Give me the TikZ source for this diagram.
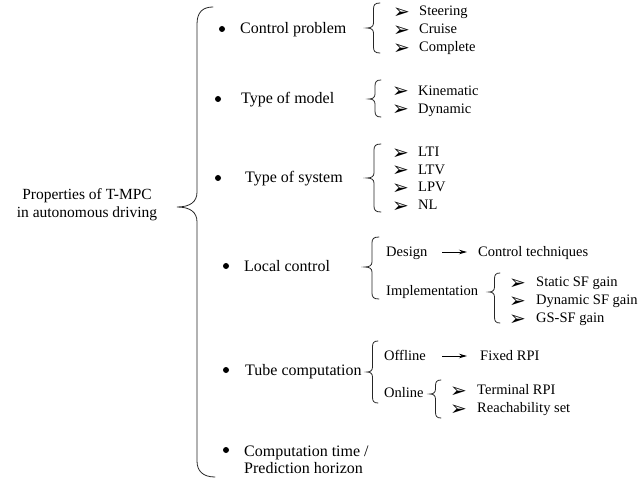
\documentclass[tikz,border=0pt]{standalone}
\usepackage{fontspec}
\setmainfont{Liberation Serif}
\newfontfamily\symfont{DejaVu Sans}
\usetikzlibrary{arrows.meta}
% #1 x of ends, #2 top y, #3 tip y, #4 bottom y, #5 width
\newcommand{\wbrace}[5]{\draw[brc] (#1,#2) .. controls ({#1-0.4*#5},#2) and ({#1-0.5*#5},{#2+2}) .. ({#1-0.5*#5},{#2+6}) -- ({#1-0.5*#5},{#3-5}) .. controls ({#1-0.5*#5},{#3-1.5}) and ({#1-0.7*#5},#3) .. ({#1-#5},#3) .. controls ({#1-0.7*#5},#3) and ({#1-0.5*#5},{#3+1.5}) .. ({#1-0.5*#5},{#3+5}) -- ({#1-0.5*#5},{#4-6}) .. controls ({#1-0.5*#5},{#4-2}) and ({#1-0.4*#5},#4) .. (#1,#4);}
\begin{document}
\begin{tikzpicture}[x=1pt,y=-1pt,
  txt/.style={anchor=base west, inner sep=0pt, font=\fontsize{14.5}{16}\selectfont, text height=11pt, text depth=3pt},
  main/.style={anchor=base west, inner sep=0pt, font=\fontsize{16}{17.5}\selectfont},
  sym/.style={anchor=base west, inner sep=0pt, yshift=-2.5pt, text height=9pt, text depth=0pt, font=\symfont\fontsize{20}{20}\selectfont},
  bdot/.style={circle, fill=black, inner sep=0pt, minimum size=6pt},
  brc/.style={line width=0.8pt, line cap=round, black!85},
  arr/.style={-{Stealth[length=8pt,width=4.5pt]}, line width=0.8pt}
]
\useasboundingbox (0,0) rectangle (640,481);

% root label
\node[anchor=base, inner sep=0pt, font=\fontsize{15.5}{18}\selectfont] (root) at (87,200)
  {\begin{tabular}[t]{@{}c@{}}Properties of T-MPC\\in autonomous driving\end{tabular}};

% big brace
\draw[brc] (213,7) .. controls (203,7) and (197,12) .. (197,24) -- (197,192)
  .. controls (197,202) and (190,207) .. (177,207)
  .. controls (190,207) and (197,212) .. (197,222) -- (197,461)
  .. controls (197,471) and (203,477) .. (215,477);

% Control problem
\node[bdot] (d1) at (222,29) {};
\node[main] (cp) at (240,34) {Control problem};
\wbrace{380}{3}{28}{53}{13}
\node[sym] (a11) at (393,16) {➢}; \node[txt] (s11) at (419,16) {Steering};
\node[sym] (a12) at (393,34) {➢}; \node[txt] (s12) at (419,34) {Cruise};
\node[sym] (a13) at (393,52) {➢}; \node[txt] (s13) at (419,52) {Complete};

% Type of model
\node[bdot] (d2) at (218,99) {};
\node[main] (tm) at (241,104) {Type of model};
\wbrace{381}{80}{99}{117}{12}
\node[sym] (a21) at (392,95.5) {➢}; \node[txt] (s21) at (418,95.5) {Kinematic};
\node[sym] (a22) at (392,113.5) {➢}; \node[txt] (s22) at (418,113.5) {Dynamic};

% Type of system
\node[bdot] (d3) at (218,178) {};
\node[main] (ts) at (245,183) {Type of system};
\wbrace{381}{144}{178}{212}{14}
\node[sym] (a31) at (392,157) {➢}; \node[txt] (s31) at (418,157) {LTI};
\node[sym] (a32) at (392,174.5) {➢}; \node[txt] (s32) at (418,174.5) {LTV};
\node[sym] (a33) at (392,192) {➢}; \node[txt] (s33) at (418,192) {LPV};
\node[sym] (a34) at (392,210) {➢}; \node[txt] (s34) at (418,210) {NL};

% Local control
\node[bdot] (d4) at (226,266) {};
\node[main] (lc) at (244,272) {Local control};
\wbrace{379}{237}{267}{299}{14}
\node[txt] (des) at (386,256) {Design};
\node[txt] (ct) at (478,256) {Control techniques};
\draw[arr, shorten <=15pt, shorten >=11pt] (des.east) -- (ct.west);
\node[txt] (imp) at (386,295) {Implementation};
\wbrace{500}{273}{292}{323}{11}
\node[sym] (a41) at (509,286.5) {➢}; \node[txt] (s41) at (536,286.5) {Static SF gain};
\node[sym] (a42) at (509,304.5) {➢}; \node[txt] (s42) at (536,304.5) {Dynamic SF gain};
\node[sym] (a43) at (509,322.5) {➢}; \node[txt] (s43) at (536,322.5) {GS-SF gain};

% Tube computation
\node[bdot] (d5) at (226,370) {};
\node[main] (tc) at (245,375) {Tube computation};
\wbrace{378}{341}{372}{403}{11}
\node[txt] (off) at (384,360) {Offline};
\node[txt] (frpi) at (480,360) {Fixed RPI};
\draw[arr, shorten <=16pt, shorten >=13pt] (off.east) -- (frpi.west);
\node[txt] (on) at (384,397) {Online};
\wbrace{441}{380}{394}{418}{11}
\node[sym] (a51) at (450,394.5) {➢}; \node[txt] (s51) at (477,394.5) {Terminal RPI};
\node[sym] (a52) at (450,412.5) {➢}; \node[txt] (s52) at (477,412.5) {Reachability set};

% Computation time
\node[bdot] (d6) at (226,450) {};
\node[anchor=base west, inner sep=0pt, font=\fontsize{16}{17.5}\selectfont] (ctime) at (244,456)
  {\begin{tabular}[t]{@{}l@{}}Computation time /\\Prediction horizon\end{tabular}};
\end{tikzpicture}
\end{document}
